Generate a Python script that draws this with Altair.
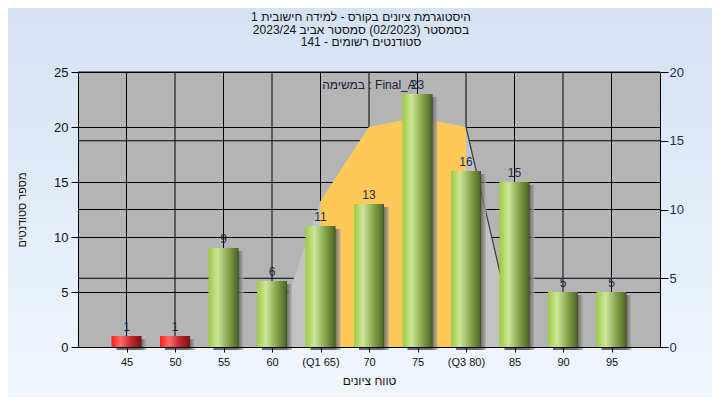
import altair as alt
import pandas as pd

# ---------------- data ----------------
scores = [45, 50, 55, 60, 65, 70, 75, 80, 85, 90, 95]
tick_labels = ["45", "50", "55", "60", "(Q1 65)", "70", "75", "(Q3 80)", "85", "90", "95"]
counts = [1, 1, 9, 6, 11, 13, 23, 16, 15, 5, 5]
pass_mark = 55

curve_scores = [60, 65, 70, 75, 80, 85]
curve_values = [0.4, 10.6, 16.0, 16.7, 16.0, 0.9]
q1, q3 = 65, 80

left_ticks = [0, 5, 10, 15, 20, 25]
right_ticks = [0, 5, 10, 15, 20]
left_grid = [5, 10, 15, 20, 25]
right_grid = [5, 10, 15, 20]

title_lines = [
    "היסטוגרמת ציונים בקורס - למידה חישובית 1",
    "בסמסטר  (02/2023)  סמסטר אביב 2023/24",
    "סטודנטים רשומים - 141",
]
x_title = "טווח ציונים"
y_title = "מספר סטודנטים"
note = "במשימה : Final_A"

# ---------------- layout / style ----------------
W, H = 582, 275
PAD = {"left": 70, "top": 64, "right": 52, "bottom": 50}
FONT = "Liberation Sans"

bars_df = pd.DataFrame({"score": scores, "count": counts})
curve_df = pd.DataFrame({"score": curve_scores, "v": curve_values})
lgrid_df = pd.DataFrame({"g": left_grid})
rgrid_df = pd.DataFrame({"g": right_grid})
one_df = pd.DataFrame({"k": [0]})

label_expr = " : ".join(
    f"datum.value == {s} ? '{l}'" for s, l in zip(scores, tick_labels)
) + " : datum.label"


def xs():
    return alt.Scale(domain=[40, 100], nice=False, zero=False, padding=0)


def yl():
    return alt.Scale(domain=[0, 25], nice=False)


def yr():
    return alt.Scale(domain=[0, 20], nice=False)


def x_axis():
    return alt.Axis(
        values=scores, labelExpr=label_expr, grid=False, tickSize=5, labelPadding=4,
        labelFontSize=11, labelColor="#111111", labelFont=FONT, labelOverlap=False,
        tickColor="#000000", domainColor="#000000", title=x_title, titleFont=FONT,
        titleFontSize=12, titleFontWeight="normal", titleColor="#111111",
        titleY=33, titleBaseline="middle", orient="bottom", zindex=1,
    )


def X():
    return alt.X("score:Q", scale=xs(), axis=x_axis(), title=x_title)


y_left_axis = alt.Axis(
    values=left_ticks, orient="left", grid=False, tickSize=7, labelPadding=3,
    labelFontSize=13, labelColor="#111111", labelFont=FONT,
    tickColor="#000000", domainColor="#000000", title=y_title, titleFont=FONT,
    titleFontSize=11, titleFontWeight="normal", titleColor="#111111",
    titleX=-56, titleY=H / 2, titleAngle=270, titleAlign="center",
    titleBaseline="middle", zindex=1,
)
y_right_axis = alt.Axis(
    values=right_ticks, orient="right", grid=False, tickSize=8, labelPadding=1,
    labelFontSize=13, labelColor="#1a2c5a", labelFont=FONT,
    tickColor="#000000", domainColor="#000000", title=None, zindex=1,
)


def hgrad(stops):
    return alt.LinearGradient(
        gradient="linear",
        stops=[alt.GradientStop(offset=o, color=c) for o, c in stops],
        x1=0, x2=1, y1=0, y2=0,
    )


bg_grad = alt.LinearGradient(
    gradient="linear",
    stops=[alt.GradientStop(offset=0, color="#d4e2f4"),
           alt.GradientStop(offset=1, color="#f0f6fd")],
    x1=0, x2=0, y1=0, y2=1,
)
green_grad = hgrad([(0, "#9dcc3e"), (0.3, "#cde59a"), (0.65, "#86a64a"), (0.95, "#556b2a"), (1, "#3e4e1c")])
red_grad = hgrad([(0, "#ff1e1e"), (0.3, "#ff6b6b"), (0.65, "#c42828"), (1, "#7a1212")])
shadow_grad = hgrad([(0, "#3c3c3c"), (0.8, "#444444"), (1, "#b0b0b0")])

# decorative backgrounds (chart gradient, grey plot panel)
bg = alt.Chart(one_df).mark_rect(fill=bg_grad).encode(
    x=alt.value(-PAD["left"]), x2=alt.value(W + PAD["right"]),
    y=alt.value(-PAD["top"]), y2=alt.value(H + PAD["bottom"]),
)
panel = alt.Chart(one_df).mark_rect(fill="#b4b4b4").encode(
    x=alt.value(0), x2=alt.value(W), y=alt.value(0), y2=alt.value(H),
)

hgrid_left = alt.Chart(lgrid_df).mark_rule(color="#000000", strokeWidth=1, yOffset=0.5).encode(
    y=alt.Y("g:Q", scale=yl(), axis=None)
)
vgrid = alt.Chart(bars_df).mark_rule(color="#000000", strokeWidth=1).encode(x=X())
hgrid_right = alt.Chart(rgrid_df).mark_rule(color="#000000", strokeWidth=1).encode(
    y=alt.Y("g:Q", scale=yr(), axis=None)
)
area_all = alt.Chart(curve_df).mark_area(color="#c2c2c2", interpolate="linear").encode(
    x=X(), y=alt.Y("v:Q", scale=yr(), axis=y_right_axis),
)
area_iqr = alt.Chart(curve_df).mark_area(color="#ffc957", interpolate="linear").encode(
    x=X(), y=alt.Y("v:Q", scale=yr(), axis=None),
).transform_filter((alt.datum.score >= q1) & (alt.datum.score <= q3))
tail_line = alt.Chart(curve_df).mark_line(color="#3a3a3a", strokeWidth=1.2).encode(
    x=X(), y=alt.Y("v:Q", scale=yr(), axis=None),
).transform_filter(alt.datum.score >= q3)
shadow = alt.Chart(bars_df).mark_bar(size=30, xOffset=5, yOffset=3, color=shadow_grad, opacity=0.75).encode(
    x=X(), y=alt.Y("count:Q", scale=yl(), axis=None),
)
bars_green = alt.Chart(bars_df).mark_bar(size=30, color=green_grad).encode(
    x=X(), y=alt.Y("count:Q", scale=yl(), axis=y_left_axis),
).transform_filter(alt.datum.score >= pass_mark)
bars_red = alt.Chart(bars_df).mark_bar(size=30, color=red_grad).encode(
    x=X(), y=alt.Y("count:Q", scale=yl(), axis=None),
).transform_filter(alt.datum.score < pass_mark)
labels = alt.Chart(bars_df).mark_text(
    baseline="alphabetic", dy=-5, fontSize=12, font=FONT, color="#1c2a48"
).encode(
    x=X(), y=alt.Y("count:Q", scale=yl(), axis=None),
    text=alt.Text("count:Q"),
)
note_text = alt.Chart(one_df).mark_text(
    text=note, fontSize=12, font=FONT, color="#1a1a3a", baseline="middle"
).encode(x=alt.value(W / 2), y=alt.value(13))

# chart title as a three-line text mark (drawn above the gradient background)
title_text = alt.Chart(one_df).mark_text(
    text=title_lines, fontSize=12, font=FONT, color="#111111",
    baseline="top", align="center", lineHeight=12.7,
).encode(x=alt.value(W / 2 - 8), y=alt.value(-60))

chart = alt.layer(
    bg, panel, hgrid_left, vgrid, hgrid_right, area_all, area_iqr, tail_line,
    shadow, bars_green, bars_red, labels, note_text, title_text,
).resolve_scale(y="independent").properties(
    width=W, height=H, padding=PAD,
    autosize=alt.AutoSizeParams(type="none"),
    background="#e3ecf8",
).configure_view(stroke=None, fill="#b4b4b4")

chart.save("out.html", embed_options={"renderer": "svg", "actions": False})
